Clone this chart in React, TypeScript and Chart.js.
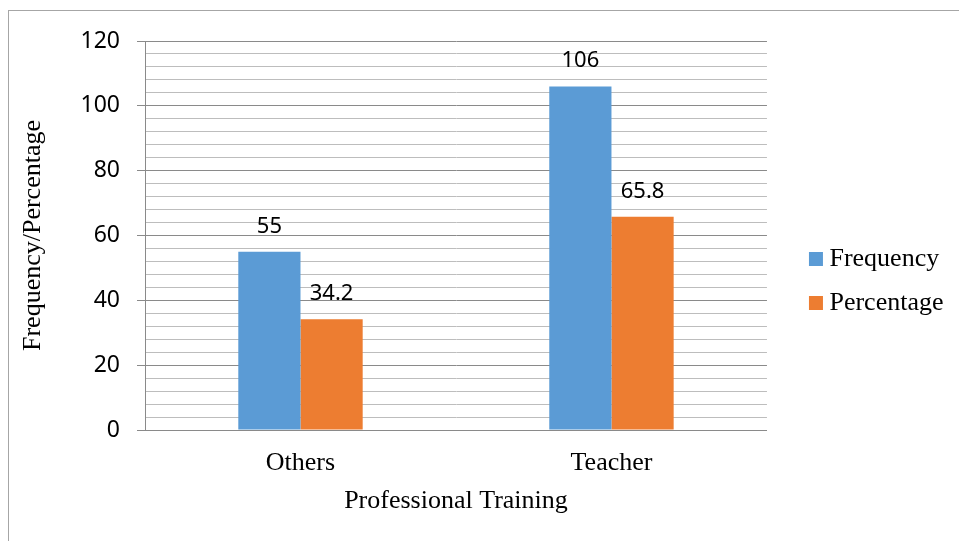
import React, { useEffect, useRef } from 'react';
import { Chart, registerables } from 'chart.js';

Chart.register(...registerables);

// ---- data ----
const categories = ['Others', 'Teacher'];
const seriesNames = ['Frequency', 'Percentage'];
const frequencyValues = [55, 106];
const percentageValues = [34.2, 65.8];
const yMin = 0;
const yMax = 120;
const yMajorStep = 20;
const yMinorStep = 4;
const xAxisTitle = 'Professional Training';
const yAxisTitle = 'Frequency/Percentage';

// ---- styles ----
const SERIF = "'Liberation Serif', 'Times New Roman', serif";
const SANS = "'Noto Sans', 'Open Sans', sans-serif";
const BLUE = '#5B9BD5';
const ORANGE = '#ED7D31';
const MAJOR = '#8a8a8a';
const MINOR = '#bdbdbd';

const isMajor = (v: number) => Math.abs(v % yMajorStep) < 1e-6;

const barValueLabels = {
  id: 'barValueLabels',
  afterDatasetsDraw(chart: any) {
    const ctx = chart.ctx;
    ctx.save();
    ctx.font = `22px ${SANS}`;
    ctx.fillStyle = '#000';
    ctx.textAlign = 'center';
    ctx.textBaseline = 'alphabetic';
    chart.data.datasets.forEach((ds: any, i: number) => {
      const meta = chart.getDatasetMeta(i);
      meta.data.forEach((el: any, j: number) => {
        ctx.fillText(String(ds.data[j]), el.x, el.y - 19);
      });
    });
    ctx.restore();
  },
};

export default function App() {
  const canvasRef = useRef<HTMLCanvasElement | null>(null);

  useEffect(() => {
    if (!canvasRef.current) return;
    const chart = new Chart(canvasRef.current, {
      type: 'bar',
      data: {
        labels: categories,
        datasets: [
          {
            label: seriesNames[0],
            data: frequencyValues,
            backgroundColor: BLUE,
            borderWidth: 0,
            categoryPercentage: 0.4,
            barPercentage: 1.0,
          },
          {
            label: seriesNames[1],
            data: percentageValues,
            backgroundColor: ORANGE,
            borderWidth: 0,
            categoryPercentage: 0.4,
            barPercentage: 1.0,
          },
        ],
      },
      options: {
        animation: false,
        responsive: true,
        maintainAspectRatio: false,
        layout: { padding: { left: 8, right: 5.5, top: 41, bottom: 0 } },
        plugins: {
          tooltip: { enabled: false },
          legend: {
            position: 'right',
            fullSize: false,
            title: { display: true, text: '', font: { size: 10 }, padding: { top: 0, bottom: 79 } },
            labels: {
              usePointStyle: true,
              pointStyle: 'rect',
              boxWidth: 1,
              boxHeight: 14,
              padding: 18,
              color: '#000',
              font: { family: SERIF, size: 26 },
            },
          },
        },
        scales: {
          x: {
            afterFit: (s: any) => {
              s.height = 111;
            },
            grid: { display: false, drawTicks: false },
            border: { display: true, color: MAJOR, width: 1 },
            ticks: { padding: 17.6, color: '#000', font: { family: SERIF, size: 26 } },
            title: {
              display: true,
              text: xAxisTitle,
              color: '#000',
              font: { family: SERIF, size: 26 },
              padding: { top: 0, bottom: 24.4 },
            },
          },
          y: {
            min: yMin,
            max: yMax,
            afterFit: (s: any) => {
              s.width = 137;
            },
            ticks: {
              stepSize: yMinorStep,
              autoSkip: false,
              padding: 17,
              color: '#000',
              font: { family: SANS, size: 23 },
              callback: (v: any) => (isMajor(Number(v)) ? String(v) : ''),
            },
            grid: {
              color: (c: any) => (c.tick && isMajor(c.tick.value) ? MAJOR : MINOR),
              tickColor: (c: any) => (c.tick && isMajor(c.tick.value) ? MAJOR : 'rgba(0,0,0,0)'),
              tickLength: 8,
              lineWidth: 1,
            },
            border: { display: true, color: MAJOR, width: 1 },
            title: {
              display: true,
              text: yAxisTitle,
              color: '#000',
              font: { family: SERIF, size: 26 },
              padding: { top: 9.4, bottom: 0 },
            },
          },
          spacer: {
            type: 'linear',
            position: 'right',
            display: true,
            afterFit: (s: any) => {
              s.width = 30.5;
            },
            grid: { display: false, drawTicks: false },
            border: { display: false },
            ticks: { display: false },
            title: { display: false },
          },
        },
      } as any,
      plugins: [barValueLabels],
    });
    return () => chart.destroy();
  }, []);

  return (
    <>
      <div
        style={{
          position: 'absolute',
          left: 8,
          top: 10,
          width: 951,
          height: 531,
          boxSizing: 'border-box',
          borderTop: '1px solid #a6a6a6',
          borderLeft: '1px solid #a6a6a6',
        }}
      />
      <div style={{ position: 'absolute', left: 0, top: 0, width: 959, height: 541 }}>
        <canvas ref={canvasRef} />
      </div>
    </>
  );
}
